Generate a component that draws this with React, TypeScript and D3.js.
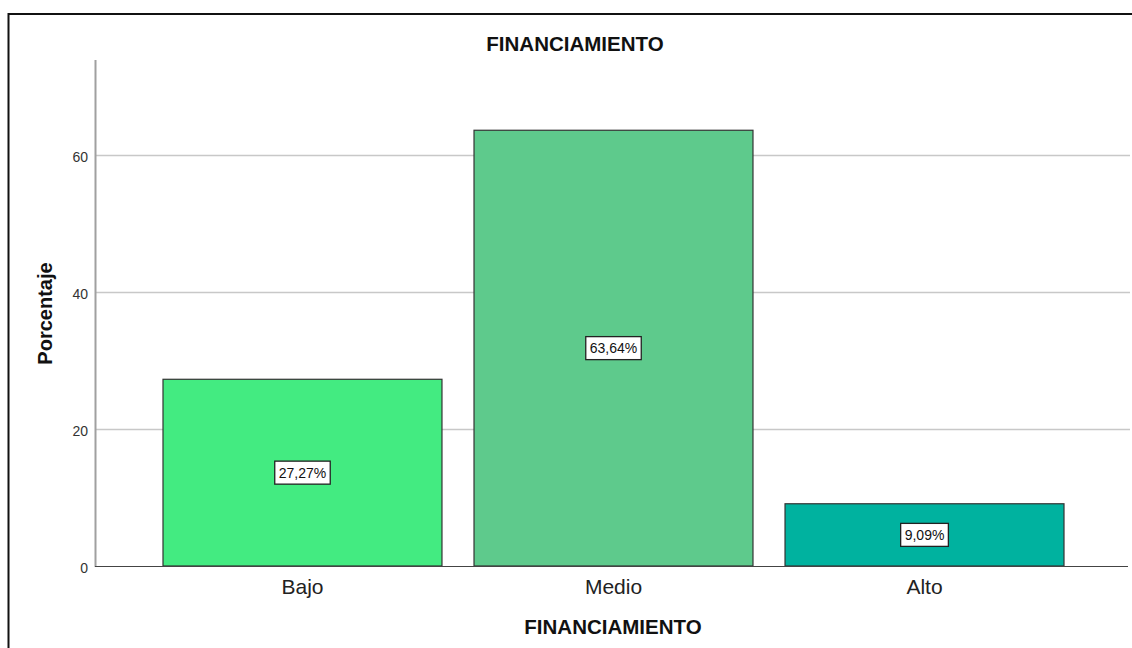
import React, { useEffect, useRef } from 'react';
import * as d3 from 'd3';

const categories = ['Bajo', 'Medio', 'Alto'];
const percentages = [27.27, 63.64, 9.09];
const labels = ['27,27%', '63,64%', '9,09%'];
const barColors = ['#43EB81', '#5ECA8C', '#00B29F'];
const yTicks = [0, 20, 40, 60];

const WIDTH = 1132;
const HEIGHT = 648;
const FONT = '"Liberation Sans", Arial, sans-serif';

const App: React.FC = () => {
  const svgRef = useRef<SVGSVGElement | null>(null);

  useEffect(() => {
    if (!svgRef.current) return;
    const svg = d3.select(svgRef.current);
    svg.selectAll('*').remove();

    const x = d3.scaleBand<string>()
      .domain(categories)
      .range([98, 1129])
      .paddingInner(0.103)
      .paddingOuter(0.209);

    const y = d3.scaleLinear().domain([0, 73.9]).range([566, 60]);

    // frame
    svg.append('rect')
      .attr('x', 8.5).attr('y', 14)
      .attr('width', WIDTH).attr('height', HEIGHT)
      .attr('fill', '#fff')
      .attr('stroke', '#111').attr('stroke-width', 2);

    // grid
    svg.append('g')
      .selectAll('line')
      .data(yTicks.filter(t => t > 0))
      .join('line')
      .attr('x1', 96).attr('x2', 1130)
      .attr('y1', d => Math.round(y(d)) + 0.5).attr('y2', d => Math.round(y(d)) + 0.5)
      .attr('stroke', '#c8c8c8').attr('stroke-width', 1.5);

    // y axis line
    svg.append('line')
      .attr('x1', 95.5).attr('x2', 95.5)
      .attr('y1', 60).attr('y2', 567)
      .attr('stroke', '#a0a0a0').attr('stroke-width', 2);

    svg.append('g')
      .selectAll('text')
      .data(yTicks)
      .join('text')
      .attr('x', 88).attr('y', d => y(d) + 2)
      .attr('dy', '0.35em')
      .attr('text-anchor', 'end')
      .attr('font-family', FONT).attr('font-size', 14)
      .attr('fill', '#333')
      .text(d => d);

    // bars
    const rows = categories.map((c, i) => ({ c, v: percentages[i], label: labels[i], color: barColors[i] }));

    svg.append('g')
      .selectAll('rect')
      .data(rows)
      .join('rect')
      .attr('x', d => x(d.c)!)
      .attr('y', d => y(d.v))
      .attr('width', x.bandwidth())
      .attr('height', d => y(0) - y(d.v))
      .attr('fill', d => d.color)
      .attr('stroke', '#333').attr('stroke-width', 1.2);

    // x axis line
    svg.append('line')
      .attr('x1', 95).attr('x2', 1128)
      .attr('y1', 566.5).attr('y2', 566.5)
      .attr('stroke', '#444').attr('stroke-width', 1.2);

    // value labels
    const lab = svg.append('g')
      .selectAll('g')
      .data(rows)
      .join('g')
      .attr('transform', d => `translate(${x(d.c)! + x.bandwidth() / 2},${(y(d.v) + y(0)) / 2})`);

    const boxes = lab.append('rect')
      .attr('y', -11.5)
      .attr('height', 23)
      .attr('fill', '#fff')
      .attr('stroke', '#222').attr('stroke-width', 1.3);

    const texts = lab.append('text')
      .attr('text-anchor', 'middle')
      .attr('dy', '0.36em')
      .attr('font-family', FONT).attr('font-size', 14)
      .attr('fill', '#111')
      .text(d => d.label);

    const widths = texts.nodes().map(n => (n as SVGTextElement).getComputedTextLength());
    boxes
      .attr('x', (_, i) => -(widths[i] + 8) / 2)
      .attr('width', (_, i) => widths[i] + 8);

    // category labels
    svg.append('g')
      .selectAll('text')
      .data(categories)
      .join('text')
      .attr('x', d => x(d)! + x.bandwidth() / 2)
      .attr('y', 594)
      .attr('text-anchor', 'middle')
      .attr('font-family', FONT).attr('font-size', 21)
      .attr('fill', '#222')
      .text(d => d);

    // titles
    svg.append('text')
      .attr('x', 575).attr('y', 51)
      .attr('text-anchor', 'middle')
      .attr('font-family', FONT).attr('font-size', 20.5).attr('font-weight', 700)
      .attr('fill', '#111')
      .text('FINANCIAMIENTO');

    svg.append('text')
      .attr('x', 613).attr('y', 634)
      .attr('text-anchor', 'middle')
      .attr('font-family', FONT).attr('font-size', 20.5).attr('font-weight', 700)
      .attr('fill', '#111')
      .text('FINANCIAMIENTO');

    svg.append('text')
      .attr('transform', 'translate(52,313.5) rotate(-90)')
      .attr('text-anchor', 'middle')
      .attr('font-family', FONT).attr('font-size', 20).attr('font-weight', 700)
      .attr('fill', '#111')
      .text('Porcentaje');
  }, []);

  return (
    <svg
      ref={svgRef}
      width={WIDTH}
      height={HEIGHT}
      style={{ position: 'absolute', left: 0, top: 0, background: '#fff' }}
    />
  );
};

export default App;
